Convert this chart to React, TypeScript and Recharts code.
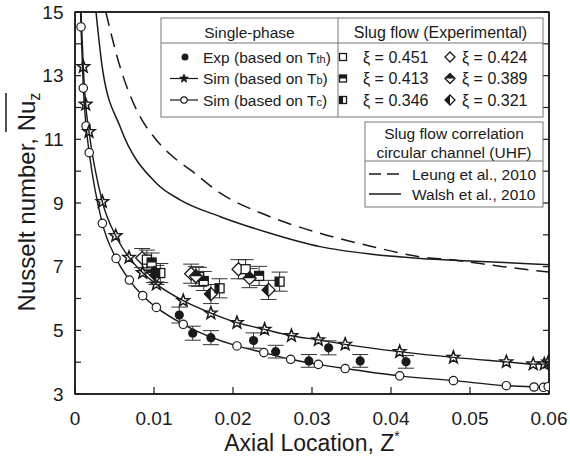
import React from 'react';
import { ComposedChart, Line, Scatter, XAxis, YAxis, ErrorBar, ReferenceArea } from 'recharts';

// ---------- data ----------
const xTicks = [0, 0.01, 0.02, 0.03, 0.04, 0.05, 0.06];
const yTicks = [3, 4, 5, 6, 7, 8, 9, 10, 11, 12, 13, 14, 15];

// Sim (based on Tc) – open circles
const simTcZ = [0.0005, 0.00076, 0.00105, 0.0014, 0.0018, 0.00346, 0.0052, 0.00688, 0.00857, 0.0103, 0.0137, 0.0205, 0.0239, 0.0273, 0.0308, 0.0342, 0.0411, 0.0479, 0.0546, 0.0581, 0.0593, 0.0599];
const simTcNu = [16.8, 14.53, 12.61, 11.42, 10.58, 8.36, 7.26, 6.58, 6.09, 5.72, 5.19, 4.51, 4.3, 4.09, 3.93, 3.8, 3.57, 3.42, 3.26, 3.22, 3.21, 3.23];

// Sim (based on Tb) – stars
const simTbZ = [0.0006, 0.00105, 0.00135, 0.00177, 0.00346, 0.00515, 0.00684, 0.00857, 0.0103, 0.0137, 0.0172, 0.0205, 0.024, 0.0274, 0.0308, 0.0342, 0.0411, 0.0479, 0.0546, 0.058, 0.0594, 0.0599];
const simTbNu = [16.0, 13.28, 12.1, 11.24, 9.04, 7.97, 7.29, 6.81, 6.45, 5.93, 5.54, 5.24, 5.03, 4.83, 4.7, 4.56, 4.33, 4.15, 4.01, 3.94, 3.94, 4.0];

// Exp (based on Tth) – filled circles
const expZ = [0.0132, 0.0149, 0.0172, 0.0226, 0.0254, 0.0296, 0.0321, 0.0361, 0.0419];
const expNu = [5.48, 4.91, 4.77, 4.68, 4.33, 4.04, 4.45, 4.04, 4.01];
const expErr = [0.25, 0.22, 0.22, 0.24, 0.2, 0.2, 0.22, 0.2, 0.2];

// Slug flow (experimental)
const s451Z = [0.0091, 0.0157, 0.0216];
const s451Nu = [7.22, 6.68, 6.92];
const s413Z = [0.0097, 0.0163, 0.0233];
const s413Nu = [7.13, 6.55, 6.71];
const s346Z = [0.0108, 0.0183, 0.0259];
const s346Nu = [6.8, 6.32, 6.53];
const s424Z = [0.0085, 0.0147, 0.0207];
const s424Nu = [7.27, 6.78, 6.92];
const s389Z = [0.01, 0.0153, 0.0221];
const s389Nu = [6.8, 6.7, 6.64];
const s321Z = [0.0103, 0.0172, 0.0245];
const s321Nu = [6.74, 6.14, 6.27];
const slugErr = [0.3, 0.3, 0.3];

// Correlations
const leungZ = [0.0039, 0.0057, 0.0078, 0.0103, 0.0129, 0.0146, 0.0184, 0.0247, 0.031, 0.0373, 0.0437, 0.0479, 0.0542, 0.06];
const leungNu = [15, 13.28, 11.92, 10.98, 10.35, 10.04, 9.31, 8.57, 8.05, 7.65, 7.31, 7.21, 7.0, 6.83];
const walshZ = [0.00266, 0.0035, 0.0057, 0.0103, 0.0133, 0.0184, 0.0247, 0.031, 0.0373, 0.0437, 0.05, 0.06];
const walshNu = [15, 13.18, 11.4, 9.62, 9.1, 8.57, 8.05, 7.63, 7.4, 7.26, 7.18, 7.06];

const pts = (zs: number[], nus: number[], errs?: number[]) =>
  zs.map((z, i) => ({ z, nu: nus[i], err: errs ? errs[i] : 0 }));

const FONT = '"Liberation Sans", Arial, sans-serif';
const INK = '#1a1a1a';

// ---------- markers ----------
const Star = ({ cx, cy, r = 6.5, fill = 'none', sw = 1.5 }: any) => {
  const p: string[] = [];
  for (let i = 0; i < 10; i++) {
    const rad = i % 2 === 0 ? r : r * 0.42;
    const a = -Math.PI / 2 + (i * Math.PI) / 5;
    p.push(`${cx + rad * Math.cos(a)},${cy + rad * Math.sin(a)}`);
  }
  return <polygon points={p.join(' ')} fill={fill} stroke={INK} strokeWidth={sw} />;
};

const Sq = ({ cx, cy, h = 4.5, mode = 'open' }: any) => (
  <g>
    <rect x={cx - h} y={cy - h} width={2 * h} height={2 * h} fill="#fff" stroke={INK} strokeWidth={1.3} />
    {mode === 'top' && <rect x={cx - h} y={cy - h} width={2 * h} height={h} fill={INK} />}
    {mode === 'left' && <rect x={cx - h} y={cy - h} width={h} height={2 * h} fill={INK} />}
  </g>
);

const Dia = ({ cx, cy, h = 6.5, mode = 'open' }: any) => (
  <g>
    <polygon points={`${cx},${cy - h} ${cx + h},${cy} ${cx},${cy + h} ${cx - h},${cy}`} fill="#fff" stroke={INK} strokeWidth={1.3} />
    {mode === 'top' && <polygon points={`${cx},${cy - h} ${cx + h},${cy} ${cx - h},${cy}`} fill={INK} />}
    {mode === 'left' && <polygon points={`${cx},${cy - h} ${cx},${cy + h} ${cx - h},${cy}`} fill={INK} />}
  </g>
);

const OpenCircle = ({ cx, cy, r = 4.2 }: any) => <circle cx={cx} cy={cy} r={r} fill="#fff" stroke={INK} strokeWidth={1.2} />;
const Dot = ({ cx, cy, r = 4.6 }: any) => <circle cx={cx} cy={cy} r={r} fill={INK} />;

const errBar = (
  <ErrorBar dataKey="err" direction="y" width={8} stroke="#333" strokeWidth={1} />
);

// ---------- legend / labels overlay ----------
const lt = { fontFamily: FONT, fontSize: 15.5, fill: INK } as const;
const Overlay = () => (
  <svg width={570} height={471} style={{ position: 'absolute', left: 0, top: 0, pointerEvents: 'none' }}>
    {/* box 1 */}
    <rect x={161} y={18} width={382} height={99} fill="#fff" stroke="#777" strokeWidth={1} />
    <line x1={161} y1={43} x2={543} y2={43} stroke="#777" />
    <line x1={338} y1={18} x2={338} y2={117} stroke="#777" />
    <text x={249.5} y={37.5} textAnchor="middle" {...lt}>Single-phase</text>
    <text x={440.5} y={37.5} textAnchor="middle" {...lt} fontSize={16}>Slug flow (Experimental)</text>

    <Dot cx={185} cy={57} r={3.5} />
    <text x={203} y={62.5} {...lt}>Exp (based on T<tspan fontSize={11}>th</tspan>)</text>
    <line x1={170} y1={78.5} x2={198} y2={78.5} stroke={INK} strokeWidth={1.2} />
    <Star cx={184} cy={78.5} r={4.5} fill={INK} sw={0.8} />
    <text x={203} y={84} {...lt}>Sim (based on T<tspan fontSize={11}>b</tspan>)</text>
    <line x1={170} y1={100} x2={198} y2={100} stroke={INK} strokeWidth={1.2} />
    <OpenCircle cx={184} cy={100} r={3.2} />
    <text x={203} y={105.5} {...lt}>Sim (based on T<tspan fontSize={11}>c</tspan>)</text>

    <Sq cx={343} cy={57} h={3.5} mode="open" />
    <text x={363} y={62.5} {...lt} fontSize={16}>ξ = 0.451</text>
    <Sq cx={343} cy={78.5} h={3.5} mode="top" />
    <text x={363} y={84} {...lt} fontSize={16}>ξ = 0.413</text>
    <Sq cx={343} cy={100} h={3.5} mode="left" />
    <text x={363} y={105.5} {...lt} fontSize={16}>ξ = 0.346</text>
    <Dia cx={450} cy={57} h={5} mode="open" />
    <text x={462} y={62.5} {...lt} fontSize={16}>ξ = 0.424</text>
    <Dia cx={450} cy={78.5} h={5} mode="top" />
    <text x={462} y={84} {...lt} fontSize={16}>ξ = 0.389</text>
    <Dia cx={450} cy={100} h={5} mode="left" />
    <text x={462} y={105.5} {...lt} fontSize={16}>ξ = 0.321</text>

    {/* box 2 */}
    <rect x={365} y={122} width={178} height={85} fill="#fff" stroke="#777" strokeWidth={1} />
    <line x1={365} y1={161} x2={543} y2={161} stroke="#777" />
    <text x={454} y={138.5} textAnchor="middle" {...lt}>Slug flow correlation</text>
    <text x={454} y={157.5} textAnchor="middle" {...lt}>circular channel (UHF)</text>
    <line x1={369} y1={174} x2={401} y2={174} stroke={INK} strokeWidth={1.5} strokeDasharray="12 6" />
    <text x={412} y={179.5} {...lt}>Leung et al., 2010</text>
    <line x1={369} y1={194} x2={401} y2={194} stroke={INK} strokeWidth={1.5} />
    <text x={412} y={199.5} {...lt}>Walsh et al., 2010</text>

    {/* axis titles */}
    <text x={312} y={451} textAnchor="middle" fontFamily={FONT} fontSize={23} fill={INK}>
      Axial Location, Z<tspan fontSize={14} dy={-10}>*</tspan>
    </text>
    <g transform="rotate(-90 35 202)">
      <text x={35} y={202} textAnchor="middle" fontFamily={FONT} fontSize={24} fill={INK}>
        Nusselt number, Nu<tspan fontSize={16} dy={5}>z</tspan>
      </text>
    </g>
    <line x1={6} y1={93} x2={6} y2={132} stroke={INK} strokeWidth={1.5} />
  </svg>
);

export default function App() {
  return (
    <div style={{ position: 'fixed', left: 0, top: 0, width: 570, height: 471, background: '#fff' }}>
      <ComposedChart width={570} height={471} margin={{ top: 11, right: 20, left: 0, bottom: 0 }}>
        <XAxis
          xAxisId="b" dataKey="z" type="number" domain={[0, 0.06]} ticks={xTicks} allowDataOverflow
          orientation="bottom" height={77} tickSize={-7} tickMargin={25}
          axisLine={{ stroke: INK, strokeWidth: 1.5 }} tickLine={{ stroke: INK, strokeWidth: 1.2 }}
          tick={{ fill: INK, fontSize: 19, fontFamily: FONT }}
          tickFormatter={(v: number) => (v === 0 ? '0' : v.toFixed(2))}
        />
        <XAxis
          xAxisId="t" type="number" domain={[0, 0.06]} ticks={xTicks} allowDataOverflow
          orientation="top" height={1} tickSize={-7} tickFormatter={() => ''}
          axisLine={{ stroke: INK, strokeWidth: 1.5 }} tickLine={{ stroke: INK, strokeWidth: 1.2 }}
        />
        <YAxis
          yAxisId="l" dataKey="nu" type="number" domain={[3, 15]} ticks={yTicks} allowDataOverflow
          orientation="left" width={75} tickSize={-6} tickMargin={17.5}
          axisLine={{ stroke: INK, strokeWidth: 1.5 }} tickLine={{ stroke: INK, strokeWidth: 1.2 }}
          tick={{ fill: INK, fontSize: 19, fontFamily: FONT }}
          tickFormatter={(v: number) => (v % 2 === 1 ? String(v) : '')}
          interval={0}
        />
        <YAxis
          yAxisId="r" type="number" domain={[3, 15]} ticks={yTicks} allowDataOverflow
          orientation="right" width={1} tickSize={-6} tickFormatter={() => ''} interval={0}
          axisLine={{ stroke: INK, strokeWidth: 1.5 }} tickLine={{ stroke: INK, strokeWidth: 1.2 }}
        />

        <ReferenceArea xAxisId="b" yAxisId="l" x1={0} x2={0.06} y1={3} y2={15}
          fill="none" fillOpacity={0} stroke={INK} strokeWidth={1.5} ifOverflow="visible" />

        <Line xAxisId="b" yAxisId="l" data={pts(leungZ, leungNu)} dataKey="nu" type="monotone"
          stroke={INK} strokeWidth={1.5} strokeDasharray="14 8" dot={false} isAnimationActive={false} />
        <Line xAxisId="b" yAxisId="l" data={pts(walshZ, walshNu)} dataKey="nu" type="monotone"
          stroke={INK} strokeWidth={1.5} dot={false} isAnimationActive={false} />

        <Line xAxisId="b" yAxisId="l" data={pts(simTcZ, simTcNu)} dataKey="nu" type="monotone"
          stroke={INK} strokeWidth={1.4} isAnimationActive={false}
          dot={(p: any) => <OpenCircle key={p.index} cx={p.cx} cy={p.cy} />} />
        <Line xAxisId="b" yAxisId="l" data={pts(simTbZ, simTbNu)} dataKey="nu" type="monotone"
          stroke={INK} strokeWidth={1.4} isAnimationActive={false}
          dot={(p: any) => <Star key={p.index} cx={p.cx} cy={p.cy} />} />

        <Scatter xAxisId="b" yAxisId="l" data={pts(expZ, expNu, expErr)} dataKey="nu" isAnimationActive={false}
          shape={(p: any) => <Dot cx={p.cx} cy={p.cy} />}>{errBar}</Scatter>

        <Scatter xAxisId="b" yAxisId="l" data={pts(s424Z, s424Nu, slugErr)} dataKey="nu" isAnimationActive={false}
          shape={(p: any) => <Dia cx={p.cx} cy={p.cy} mode="open" />}>{errBar}</Scatter>
        <Scatter xAxisId="b" yAxisId="l" data={pts(s451Z, s451Nu, slugErr)} dataKey="nu" isAnimationActive={false}
          shape={(p: any) => <Sq cx={p.cx} cy={p.cy} mode="open" />}>{errBar}</Scatter>
        <Scatter xAxisId="b" yAxisId="l" data={pts(s413Z, s413Nu, slugErr)} dataKey="nu" isAnimationActive={false}
          shape={(p: any) => <Sq cx={p.cx} cy={p.cy} mode="top" />}>{errBar}</Scatter>
        <Scatter xAxisId="b" yAxisId="l" data={pts(s389Z, s389Nu, slugErr)} dataKey="nu" isAnimationActive={false}
          shape={(p: any) => <Dia cx={p.cx} cy={p.cy} mode="top" />}>{errBar}</Scatter>
        <Scatter xAxisId="b" yAxisId="l" data={pts(s321Z, s321Nu, slugErr)} dataKey="nu" isAnimationActive={false}
          shape={(p: any) => <Dia cx={p.cx} cy={p.cy} mode="left" />}>{errBar}</Scatter>
        <Scatter xAxisId="b" yAxisId="l" data={pts(s346Z, s346Nu, slugErr)} dataKey="nu" isAnimationActive={false}
          shape={(p: any) => <Sq cx={p.cx} cy={p.cy} mode="left" />}>{errBar}</Scatter>
      </ComposedChart>
      <Overlay />
    </div>
  );
}
